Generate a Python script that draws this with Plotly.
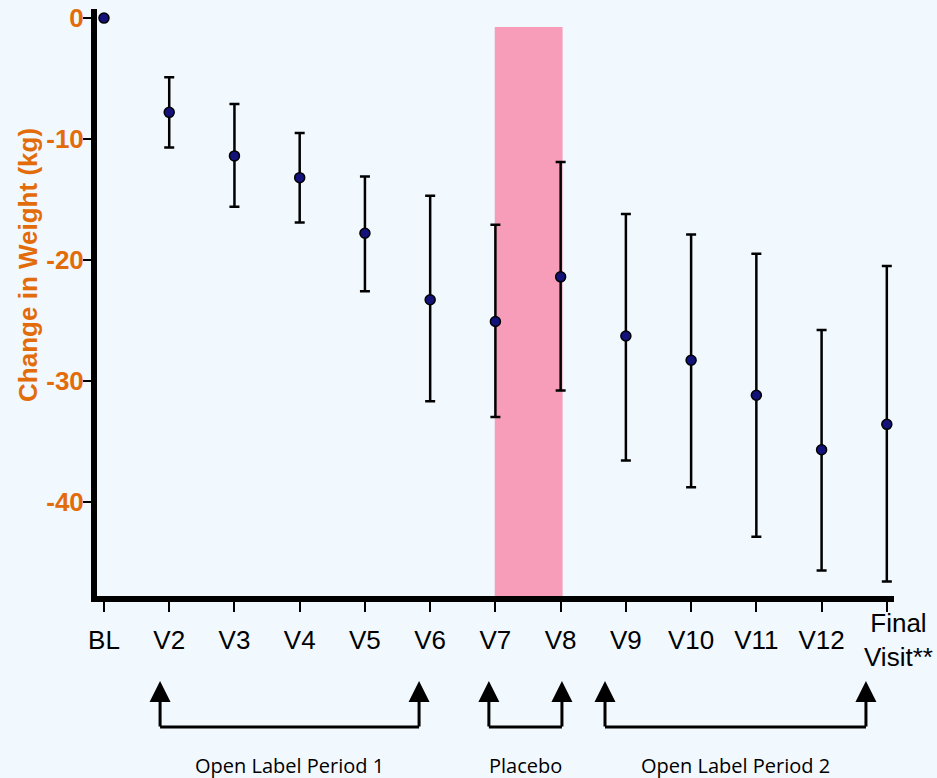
import plotly.graph_objects as go

# ---- data ----
visits = ["BL", "V2", "V3", "V4", "V5", "V6", "V7", "V8", "V9", "V10", "V11", "V12", "Final<br>Visit**"]
mean_change = [0.0, -7.8, -11.4, -13.2, -17.8, -23.3, -25.1, -21.4, -26.3, -28.3, -31.2, -35.7, -33.6]
upper = [0.0, -4.9, -7.1, -9.5, -13.1, -14.7, -17.1, -11.9, -16.2, -17.9, -19.5, -25.8, -20.5]
lower = [0.0, -10.7, -15.6, -16.9, -22.6, -31.7, -33.0, -30.8, -36.6, -38.8, -42.9, -45.7, -46.6]
y_ticks = [0, -10, -20, -30, -40]

placebo_start, placebo_end = 5.99, 7.03
placebo_top = -0.74

periods = [
    ("Open Label Period 1", 0.86, 4.83),
    ("Placebo", 5.90, 7.02),
    ("Open Label Period 2", 7.68, 11.68),
]

x_idx = list(range(len(visits)))
err_plus = [u - m for u, m in zip(upper, mean_change)]
err_minus = [m - l for m, l in zip(mean_change, lower)]
# the last (two-line) label is drawn as an annotation centred on the label row
tick_text = visits[:-1] + [""]

ORANGE = "#E36C0A"
BG = "#F1F8FE"

fig = go.Figure()
fig.add_trace(go.Scatter(
    x=x_idx, y=mean_change, mode="markers",
    marker=dict(symbol="circle", size=10, color="#12127A", line=dict(color="black", width=1.5)),
    error_y=dict(type="data", symmetric=False, array=err_plus, arrayminus=err_minus,
                 color="black", thickness=2.5, width=5),
    showlegend=False, hoverinfo="skip",
))

y_min, y_max = -47.8, 0.75

# placebo shading
fig.add_shape(type="rect", xref="x", yref="y", x0=placebo_start, x1=placebo_end,
              y0=y_min, y1=placebo_top, fillcolor="#F79DBA", line=dict(width=0), layer="below")

# period brackets
y_tip = -0.1448
y_base = -0.2232
for label, xa, xb in periods:
    fig.add_shape(type="line", xref="x", yref="paper", x0=xa, x1=xb, y0=y_base, y1=y_base,
                  line=dict(color="black", width=3))
    for xv in (xa, xb):
        fig.add_annotation(x=xv, y=y_tip, xref="x", yref="paper", ax=0, ay=47,
                           showarrow=True, arrowhead=2, arrowsize=1.4, arrowwidth=3,
                           arrowcolor="black", text="", standoff=0)
    fig.add_annotation(x=(xa + xb) / 2, y=-0.288, xref="x", yref="paper", yanchor="middle",
                       text=label, showarrow=False,
                       font=dict(family="Open Sans", size=20, color="black"))

# last tick label (two lines)
fig.add_annotation(x=x_idx[-1], y=-0.0746, xref="x", yref="paper", yanchor="middle",
                   xshift=12, text=visits[-1], showarrow=False, align="center",
                   font=dict(family="Liberation Sans", size=26, color="black"))

# y axis title
fig.add_annotation(x=-0.0866, y=0.564, xref="paper", yref="paper", textangle=-90,
                   text="Change in Weight (kg)", showarrow=False,
                   xanchor="center", yanchor="middle",
                   font=dict(family="Liberation Sans", size=26, color=ORANGE, weight="bold"))

fig.update_layout(
    width=937, height=778,
    margin=dict(l=97, r=43, t=9, b=182, autoexpand=False),
    paper_bgcolor=BG, plot_bgcolor=BG,
    xaxis=dict(range=[-0.107, 12.11], tickmode="array", tickvals=x_idx, ticktext=tick_text,
               automargin=False, ticklabelstandoff=6,
               showgrid=False, zeroline=False, showline=True, linecolor="black", linewidth=6,
               ticks="outside", ticklen=10, tickwidth=2, tickcolor="black",
               tickfont=dict(family="Liberation Sans", size=26, color="black")),
    yaxis=dict(range=[y_min, y_max], tickmode="array", tickvals=y_ticks,
               ticktext=[str(v) for v in y_ticks], automargin=False, ticklabelstandoff=-6,
               showgrid=False, zeroline=False, showline=True, linecolor="black", linewidth=6,
               ticks="outside", ticklen=8, tickwidth=2, tickcolor="black",
               tickfont=dict(family="Liberation Sans", size=26, color=ORANGE, weight="bold")),
)

fig.write_html("out.html")
